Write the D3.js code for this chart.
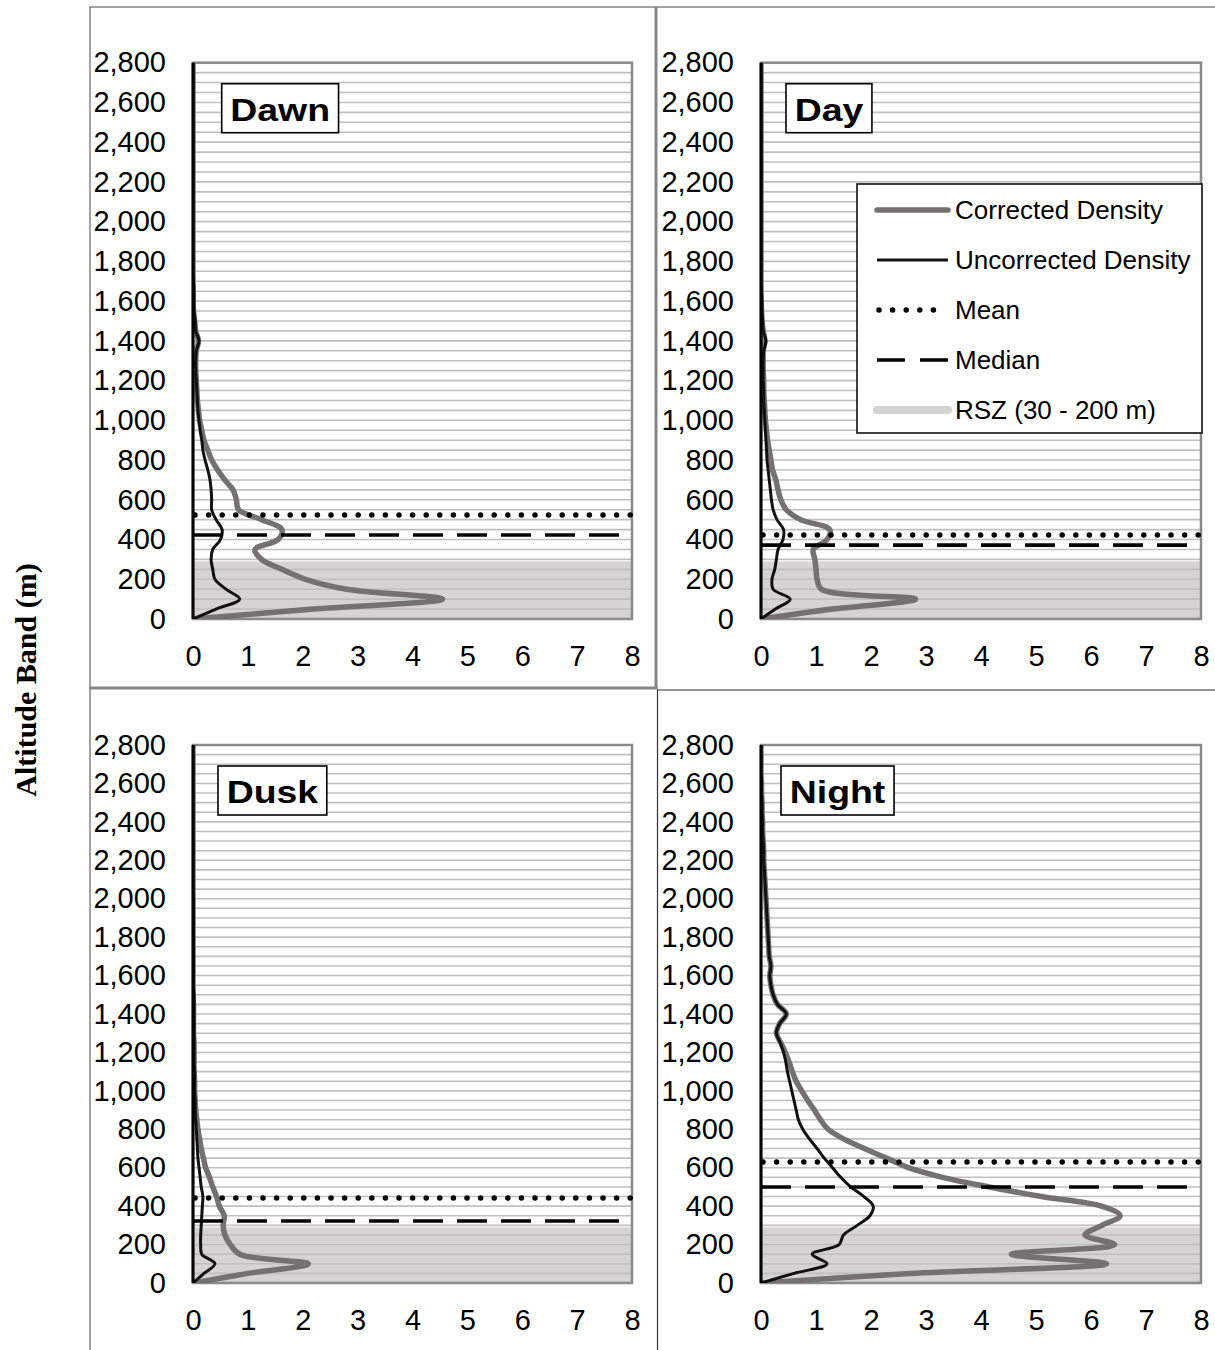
<!DOCTYPE html>
<html>
<head>
<meta charset="utf-8">
<script src="https://cdn.jsdelivr.net/npm/d3@7"></script>
<style>
  body { margin: 0; background: #fff; }
  svg { display: block; }
</style>
</head>
<body>
<svg id="chart" width="1215" height="1350"></svg>
<script>
// Altitude bands (m), 50 m resolution
const altitudes = [0, 50, 100, 150, 200, 250, 300, 350, 400, 450, 500, 550, 600, 650, 700, 750,
  800, 850, 900, 950, 1000, 1050, 1100, 1150, 1200, 1250, 1300, 1350, 1400, 1450, 1500, 1550,
  1600, 1650, 1700, 1750, 1800, 1850, 1900, 1950, 2000, 2050, 2100, 2150, 2200, 2250, 2300,
  2350, 2400, 2450, 2500, 2550, 2600, 2650, 2700, 2750, 2800];

// Density per altitude band, one value per entry of `altitudes`
const dawnCorrected = [0, 2.2, 4.55, 2.8, 2.05, 1.62, 1.25, 1.13, 1.55, 1.62, 1.25, 0.83, 0.79, 0.73, 0.58, 0.45,
  0.34, 0.27, 0.2, 0.16, 0.12, 0.1, 0.08, 0.07, 0.06, 0.05, 0.05, 0.06, 0.1, 0.05, 0.03, 0.01,
  0, 0, 0, 0, 0, 0, 0, 0, 0, 0, 0, 0, 0, 0, 0, 0, 0, 0, 0, 0, 0, 0, 0, 0, 0];
const dawnUncorrected = [0, 0.42, 0.85, 0.6, 0.4, 0.36, 0.33, 0.36, 0.5, 0.53, 0.42, 0.34, 0.34, 0.33, 0.31, 0.27,
  0.22, 0.18, 0.16, 0.13, 0.11, 0.09, 0.08, 0.07, 0.06, 0.05, 0.05, 0.06, 0.11, 0.05, 0.04, 0.02,
  0.02, 0.02, 0.01, 0, 0, 0, 0, 0, 0, 0, 0, 0, 0, 0, 0, 0, 0, 0, 0, 0, 0, 0, 0, 0, 0];

const dayCorrected = [0, 1.3, 2.81, 1.1, 1.02, 1.0, 0.98, 0.95, 1.2, 1.25, 0.72, 0.46, 0.36, 0.31, 0.27, 0.21,
  0.18, 0.15, 0.12, 0.1, 0.08, 0.07, 0.06, 0.05, 0.05, 0.04, 0.04, 0.04, 0.07, 0.04, 0.02, 0.01,
  0, 0, 0, 0, 0, 0, 0, 0, 0, 0, 0, 0, 0, 0, 0, 0, 0, 0, 0, 0, 0, 0, 0, 0, 0];
const dayUncorrected = [0, 0.26, 0.53, 0.22, 0.2, 0.25, 0.28, 0.31, 0.4, 0.41, 0.29, 0.22, 0.19, 0.17, 0.15, 0.13,
  0.11, 0.1, 0.09, 0.08, 0.07, 0.06, 0.05, 0.05, 0.04, 0.04, 0.04, 0.05, 0.09, 0.04, 0.03, 0.02,
  0.02, 0.01, 0, 0, 0, 0, 0, 0, 0, 0, 0, 0, 0, 0, 0, 0, 0, 0, 0, 0, 0, 0, 0, 0, 0];

const duskCorrected = [0, 1.0, 2.1, 0.85, 0.68, 0.58, 0.55, 0.57, 0.48, 0.43, 0.36, 0.3, 0.23, 0.19, 0.15, 0.12,
  0.09, 0.07, 0.05, 0.04, 0.03, 0.03, 0.02, 0.02, 0.02, 0.02, 0.01, 0.01, 0.01, 0.01, 0, 0,
  0, 0, 0, 0, 0, 0, 0, 0, 0, 0, 0, 0, 0, 0, 0, 0, 0, 0, 0, 0, 0, 0, 0, 0, 0];
const duskUncorrected = [0, 0.2, 0.4, 0.16, 0.14, 0.14, 0.15, 0.16, 0.17, 0.18, 0.15, 0.13, 0.11, 0.09, 0.08, 0.07,
  0.06, 0.05, 0.04, 0.04, 0.03, 0.03, 0.03, 0.02, 0.02, 0.02, 0.02, 0.02, 0.02, 0.02, 0.02, 0.01,
  0.01, 0.01, 0.01, 0.01, 0.01, 0.01, 0.01, 0.01, 0.01, 0, 0, 0, 0, 0, 0, 0, 0, 0, 0, 0, 0, 0, 0, 0, 0];

const nightCorrected = [0, 2.7, 6.28, 4.55, 6.43, 5.89, 6.2, 6.53, 6.19, 5.1, 4.15, 3.3, 2.68, 2.28, 1.88, 1.5,
  1.22, 1.08, 0.97, 0.85, 0.74, 0.64, 0.57, 0.51, 0.44, 0.36, 0.28, 0.34, 0.46, 0.3, 0.22, 0.18,
  0.16, 0.18, 0.15, 0.14, 0.13, 0.12, 0.11, 0.1, 0.09, 0.08, 0.07, 0.06, 0.05, 0.05, 0.04,
  0.03, 0.03, 0.02, 0.02, 0.01, 0.01, 0, 0, 0, 0];
const nightUncorrected = [0, 0.6, 1.2, 0.93, 1.42, 1.5, 1.75, 1.98, 2.04, 1.87, 1.63, 1.45, 1.3, 1.15, 1.02, 0.88,
  0.76, 0.68, 0.64, 0.6, 0.56, 0.52, 0.48, 0.45, 0.41, 0.35, 0.28, 0.34, 0.46, 0.3, 0.22, 0.18,
  0.16, 0.18, 0.15, 0.14, 0.13, 0.12, 0.11, 0.1, 0.09, 0.08, 0.07, 0.06, 0.05, 0.05, 0.04,
  0.03, 0.03, 0.02, 0.02, 0.01, 0.01, 0, 0, 0, 0];

// Summary altitudes (m) per period
const periods = ["Dawn", "Day", "Dusk", "Night"];
const meanAltitude = [523, 423, 442, 630];
const medianAltitude = [423, 372, 323, 500];

// Rotor swept zone shading (m)
const rszBand = [0, 290];

// Axis ticks
const yTicks = [0, 200, 400, 600, 800, 1000, 1200, 1400, 1600, 1800, 2000, 2200, 2400, 2600, 2800];
const xTicks = [0, 1, 2, 3, 4, 5, 6, 7, 8];

const legendItems = ["Corrected Density", "Uncorrected Density", "Mean", "Median", "RSZ (30 - 200 m)"];

// ---- layout & style ----
const FONT = "'Liberation Sans', Arial, sans-serif";
const C_CORR = "#767171";
const C_UNCORR = "#111111";
const C_GRID = "#c0c0c0";
const C_RSZ = "#d5d3d3";
const W_CORR = 5.5, W_UNCORR = 3;
const DOT = { width: 5.5, dash: "0,13.6" };
const DASH = { width: 3.6, dash: "30,14" };

const series = {
  Dawn:  [dawnCorrected, dawnUncorrected],
  Day:   [dayCorrected, dayUncorrected],
  Dusk:  [duskCorrected, duskUncorrected],
  Night: [nightCorrected, nightUncorrected]
};

const layout = [
  { left: 193, right: 632, top: 62.7, bottom: 619, titleDx: 28.7 },
  { left: 761, right: 1201, top: 62.7, bottom: 619, titleDx: 25 },
  { left: 193, right: 632, top: 745, bottom: 1283, titleDx: 25 },
  { left: 761, right: 1201, top: 745, bottom: 1283, titleDx: 20 }
];

const svg = d3.select("#chart");
svg.append("rect").attr("width", 1215).attr("height", 1350).attr("fill", "#fff");

// Panel frames
const frames = svg.append("g").attr("fill", "none");
frames.append("line").attr("x1", 89).attr("x2", 1215).attr("y1", 7).attr("y2", 7)
  .attr("stroke", "#858585").attr("stroke-width", 1.5);
frames.append("line").attr("x1", 90).attr("x2", 90).attr("y1", 7).attr("y2", 1350)
  .attr("stroke", "#858585").attr("stroke-width", 1.5);
frames.append("line").attr("x1", 656).attr("x2", 656).attr("y1", 7).attr("y2", 689)
  .attr("stroke", "#858585").attr("stroke-width", 3);
frames.append("line").attr("x1", 89).attr("x2", 657.5).attr("y1", 688).attr("y2", 688)
  .attr("stroke", "#858585").attr("stroke-width", 3);
frames.append("line").attr("x1", 657).attr("x2", 1215).attr("y1", 690).attr("y2", 690)
  .attr("stroke", "#333").attr("stroke-width", 1.2);
frames.append("line").attr("x1", 657.5).attr("x2", 657.5).attr("y1", 689.5).attr("y2", 1350)
  .attr("stroke", "#333").attr("stroke-width", 1.2);

// Shared y-axis title
svg.append("text")
  .attr("transform", "translate(36,680) rotate(-90)")
  .attr("text-anchor", "middle")
  .attr("font-family", "'Liberation Serif', 'Times New Roman', serif")
  .attr("font-weight", "bold")
  .attr("font-size", 30)
  .text("Altitude Band (m)");

periods.forEach((name, i) => {
  const L = layout[i];
  const [corr, uncorr] = series[name];
  const x = d3.scaleLinear().domain([0, 8]).range([L.left, L.right]);
  const y = d3.scaleLinear().domain([0, 2800]).range([L.bottom, L.top]);
  const g = svg.append("g");

  const clipId = "clip" + i;
  g.append("clipPath").attr("id", clipId).append("rect")
    .attr("x", L.left).attr("y", L.top).attr("width", L.right - L.left).attr("height", L.bottom - L.top);

  // RSZ shading
  g.append("rect")
    .attr("x", x(0)).attr("width", x(8) - x(0))
    .attr("y", y(rszBand[1])).attr("height", y(rszBand[0]) - y(rszBand[1]))
    .attr("fill", C_RSZ);

  // 50 m gridlines
  g.append("g").selectAll("line").data(d3.range(50, 2800, 50)).join("line")
    .attr("x1", x(0)).attr("x2", x(8))
    .attr("y1", d => y(d)).attr("y2", d => y(d))
    .attr("stroke", C_GRID).attr("stroke-width", 1.6);

  // Axes (labels only)
  const yAxis = g.append("g").attr("transform", `translate(${x(0)},0)`)
    .call(d3.axisLeft(y).tickValues(yTicks).tickFormat(d3.format(",")).tickSize(0).tickPadding(27));
  const xAxis = g.append("g").attr("transform", `translate(0,${y(0)})`)
    .call(d3.axisBottom(x).tickValues(xTicks).tickFormat(d3.format("d")).tickSize(0).tickPadding(26));
  [yAxis, xAxis].forEach(a => {
    a.select(".domain").remove();
    a.selectAll("text").attr("font-family", FONT).attr("font-size", 29).attr("fill", "#000");
  });

  // Plot area border
  g.append("rect")
    .attr("x", x(0)).attr("y", y(2800)).attr("width", x(8) - x(0)).attr("height", y(0) - y(2800))
    .attr("fill", "none").attr("stroke", "#8a8a8a").attr("stroke-width", 2.5);

  // Density profiles
  const line = d3.line()
    .x(d => x(d[1]))
    .y(d => y(d[0]))
    .curve(d3.curveCatmullRom.alpha(0.5));
  const plot = g.append("g").attr("clip-path", `url(#${clipId})`);
  plot.append("path")
    .attr("d", line(altitudes.map((a, k) => [a, corr[k]])))
    .attr("fill", "none").attr("stroke", C_CORR).attr("stroke-width", W_CORR)
    .attr("stroke-linejoin", "round").attr("stroke-linecap", "round");

  // Y axis line
  g.append("line").attr("x1", x(0)).attr("x2", x(0)).attr("y1", y(2800)).attr("y2", y(0))
    .attr("stroke", "#000").attr("stroke-width", 3);

  plot.append("path")
    .attr("d", line(altitudes.map((a, k) => [a, uncorr[k]])))
    .attr("fill", "none").attr("stroke", C_UNCORR).attr("stroke-width", W_UNCORR)
    .attr("stroke-linejoin", "round").attr("stroke-linecap", "round");

  // Mean (dotted) and median (dashed)
  g.append("line")
    .attr("x1", x(0) + 2).attr("x2", x(8)).attr("y1", y(meanAltitude[i])).attr("y2", y(meanAltitude[i]))
    .attr("stroke", "#000").attr("stroke-width", DOT.width).attr("stroke-linecap", "round")
    .attr("stroke-dasharray", DOT.dash);
  g.append("line")
    .attr("x1", x(0)).attr("x2", x(8)).attr("y1", y(medianAltitude[i])).attr("y2", y(medianAltitude[i]))
    .attr("stroke", "#000").attr("stroke-width", DASH.width)
    .attr("stroke-dasharray", DASH.dash);

  // Period label box
  const tg = g.append("g");
  const t = tg.append("text")
    .attr("font-family", FONT).attr("font-weight", "bold").attr("font-size", 32)
    .attr("text-anchor", "middle").attr("dominant-baseline", "central")
    .text(name);
  const bw = t.node().getBBox().width * 1.17 + 17;
  const bh = 49;
  const bx = x(0) + L.titleDx, by = y(2800) + 21;
  tg.insert("rect", "text")
    .attr("x", bx).attr("y", by).attr("width", bw).attr("height", bh)
    .attr("fill", "#fff").attr("stroke", "#000").attr("stroke-width", 1.6);
  t.attr("transform", `translate(${bx + bw / 2},${by + bh / 2 + 1}) scale(1.17,1)`);

  // Legend in the Day panel
  if (name === "Day") {
    const lg = g.append("g");
    lg.append("rect").attr("x", 857).attr("y", 184).attr("width", 345).attr("height", 249)
      .attr("fill", "#fff").attr("stroke", "#111").attr("stroke-width", 1.6);
    const rowY = k => 210 + k * 50;
    const sx1 = 877, sx2 = 948;
    lg.append("line").attr("x1", sx1).attr("x2", sx2).attr("y1", rowY(0)).attr("y2", rowY(0))
      .attr("stroke", C_CORR).attr("stroke-width", W_CORR).attr("stroke-linecap", "round");
    lg.append("line").attr("x1", sx1).attr("x2", sx2).attr("y1", rowY(1)).attr("y2", rowY(1))
      .attr("stroke", C_UNCORR).attr("stroke-width", W_UNCORR);
    lg.append("line").attr("x1", sx1 + 2).attr("x2", sx2 - 8).attr("y1", rowY(2)).attr("y2", rowY(2))
      .attr("stroke", "#000").attr("stroke-width", DOT.width).attr("stroke-linecap", "round")
      .attr("stroke-dasharray", DOT.dash);
    lg.append("line").attr("x1", sx1).attr("x2", sx2).attr("y1", rowY(3)).attr("y2", rowY(3))
      .attr("stroke", "#000").attr("stroke-width", DASH.width).attr("stroke-dasharray", "28,15");
    lg.append("line").attr("x1", sx1).attr("x2", sx2).attr("y1", rowY(4)).attr("y2", rowY(4))
      .attr("stroke", "#d3d3d3").attr("stroke-width", 8).attr("stroke-linecap", "round");
    lg.selectAll("text.item").data(legendItems).join("text")
      .attr("class", "item")
      .attr("x", 955).attr("y", (d, k) => rowY(k))
      .attr("dominant-baseline", "central")
      .attr("font-family", FONT).attr("font-size", 26).attr("fill", "#000")
      .text(d => d);
  }
});
</script>
</body>
</html>
